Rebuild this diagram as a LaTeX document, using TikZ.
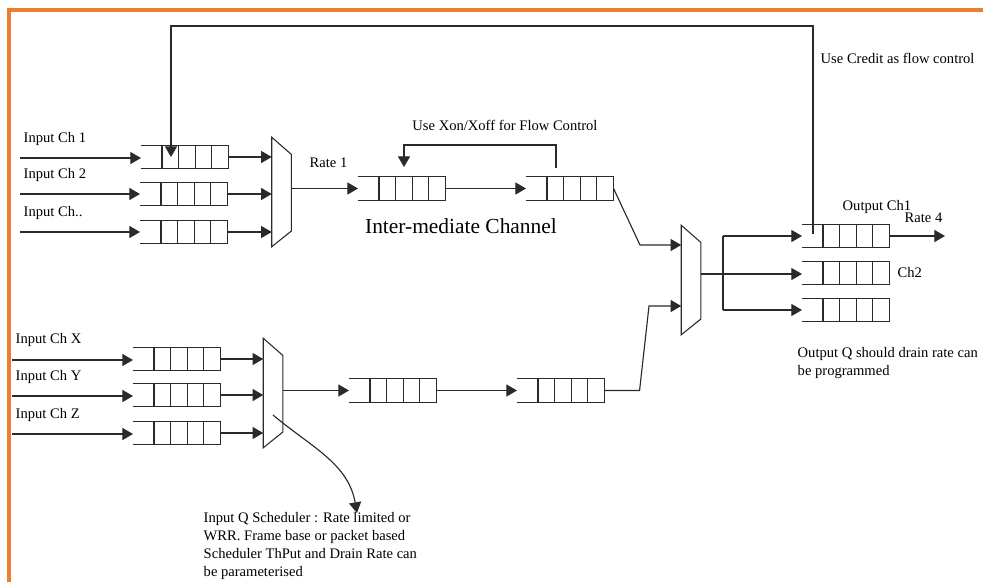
\documentclass[tikz,border=0pt]{standalone}
\usepackage{fontspec}
\setmainfont{Liberation Serif}
\usetikzlibrary{arrows.meta,calc}
\definecolor{pageedge}{HTML}{ED7D31}
\definecolor{wire}{HTML}{2A2A2A}

% queue: open on the left, four cells on the right
\newcommand{\drawfifo}[2]{%
  \node[fifo, anchor=west] (#1) at (#2) {};
  \draw[qline] (#1.north west) -- (#1.north east) -- (#1.south east) -- (#1.south west);
  \foreach \k in {1,...,4}
    \draw[qline] ($(#1.north east)!\k*0.19!(#1.north west)$) -- ($(#1.south east)!\k*0.19!(#1.south west)$);
}
% scheduler / mux as a trapezoid
\newcommand{\drawmux}[2]{%
  \node[muxbox] (#1) at (#2) {};
  \draw[qline] (#1.north west) -- ([yshift=-12pt]#1.north east) -- ([yshift=11pt]#1.south east) -- (#1.south west) -- cycle;
}

\begin{document}
\begin{tikzpicture}[x=0.7pt, y=-0.7pt,
  fifo/.style={minimum width=60.9pt, minimum height=16.1pt, inner sep=0pt},
  muxbox/.style={minimum width=13.3pt, minimum height=76.3pt, inner sep=0pt},
  qline/.style={draw=wire, line width=0.75pt},
  flow/.style={draw=wire, line width=0.8pt, -{Triangle[length=7.5pt,width=8.5pt]}},
  lbl/.style={font=\fontsize{10.2}{12.6}\selectfont, inner sep=1pt}]
  \useasboundingbox (0,0) rectangle (983,582);
  \draw[pageedge, line width=2.2pt] (9,582) -- (9,10) -- (983,10);

  % input side, top group
  \drawfifo{qa1}{141,157}
  \drawfifo{qa2}{140,194}
  \drawfifo{qa3}{140,232}
  \drawmux{muxa}{281.5,192}
  \node[lbl, anchor=west] (lin1) at (22,139) {Input Ch 1};
  \node[lbl, anchor=west] (lin2) at (22,175) {Input Ch 2};
  \node[lbl, anchor=west] (lin3) at (22,213) {Input Ch..};
  \foreach \q/\y in {qa1/158, qa2/194, qa3/232} {
    \coordinate (in-\q) at (20,\y);
    \draw[flow] (in-\q) -- (in-\q -| \q.west);
    \draw[flow] (\q.east) -- (\q.east -| muxa.west);
  }

  % input side, bottom group
  \drawfifo{qb1}{133,359}
  \drawfifo{qb2}{133,395}
  \drawfifo{qb3}{133,433}
  \drawmux{muxb}{273,393}
  \node[lbl, anchor=west] (linx) at (14,340) {Input Ch X};
  \node[lbl, anchor=west] (liny) at (14,377) {Input Ch Y};
  \node[lbl, anchor=west] (linz) at (14,415) {Input Ch Z};
  \foreach \q/\y in {qb1/360, qb2/396, qb3/434} {
    \coordinate (in-\q) at (12,\y);
    \draw[flow] (in-\q) -- (in-\q -| \q.west);
    \draw[flow] (\q.east) -- (\q.east -| muxb.west);
  }

  % intermediate channels
  \drawfifo{qm1}{358,188.5}
  \drawfifo{qm2}{526,188.5}
  \drawfifo{qn1}{349,390.5}
  \drawfifo{qn2}{517,390.5}
  \draw[flow] (qm1.west -| muxa.east) -- (qm1.west);
  \draw[flow] (qm1.east) -- (qm2.west);
  \draw[flow] (qn1.west -| muxb.east) -- (qn1.west);
  \draw[flow] (qn1.east) -- (qn2.west);
  \node[lbl, anchor=west] (rate1) at (308,163) {Rate 1};
  \node[font=\fontsize{15}{18}\selectfont, inner sep=0pt] (interlbl) at (461,226) {Inter-mediate Channel};

  % xon/xoff loop
  \coordinate (xon) at (556,168);
  \coordinate (xoff) at (404,167);
  \draw[flow] (xon) -- ++(0,-23) -| (xoff);
  \node[lbl] (xonlbl) at (505,125) {Use Xon/Xoff for Flow Control};

  % output scheduler
  \drawmux{muxc}{691,280}
  \coordinate (ca) at (640,245);
  \draw[flow] (qm2.east) -- (ca) -- (ca -| muxc.west);
  \coordinate (cb) at (649,306);
  \draw[flow] (qn2.east) -- ++(35,0) -- (cb) -- (cb -| muxc.west);

  % output queues
  \drawfifo{qo1}{802,236}
  \drawfifo{qo2}{802,273}
  \drawfifo{qo3}{802,310}
  \coordinate (split) at (723,274);
  \draw[qline] (split -| muxc.east) -- (split);
  \draw[qline] (split |- qo1.west) -- (split |- qo3.west);
  \draw[flow] (split |- qo1.west) -- (qo1.west);
  \draw[flow] (split) -- (split -| qo2.west);
  \draw[flow] (split |- qo3.west) -- (qo3.west);
  \coordinate (out4) at (945,236);
  \draw[flow] (qo1.east) -- (out4);
  \node[lbl, anchor=west] (och1) at (841,207) {Output Ch1};
  \node[lbl, anchor=west] (rate4) at (903,218) {Rate 4};
  \node[lbl, anchor=west] (och2) at (896,273) {Ch2};
  \node[lbl, anchor=north west, align=left] (drainlbl) at (796,346) {Output Q should drain rate can\\be programmed};

  % credit loop
  \coordinate (crsrc) at (813,234);
  \coordinate (crtop) at (813,26);
  \coordinate (crtip) at (171,157);
  \draw[flow] (crsrc) -- (crtop) -| (crtip);
  \node[lbl, anchor=west] (creditlbl) at (819,58) {Use Credit as flow control};

  % scheduler note
  \node[lbl, anchor=north west, align=left] (schedlbl) at (202,511) {Input Q Scheduler : Rate limited or\\WRR. Frame base or packet based\\Scheduler ThPut and Drain Rate can\\be parameterised};
  \coordinate (schsrc) at (273,415);
  \coordinate (schtip) at (357,513);
  \draw[flow] (schsrc) to[out=-40, in=100] (schtip);
\end{tikzpicture}
\end{document}
